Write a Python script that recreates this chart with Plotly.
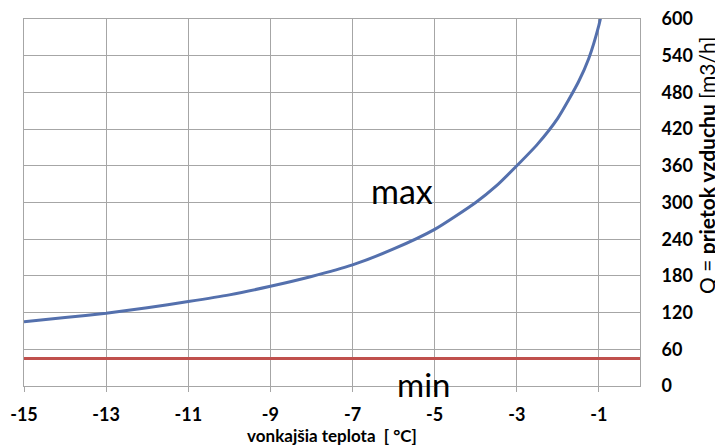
import plotly.graph_objects as go

# outdoor temperature [°C]
temp_max = [-15, -14, -13, -12, -11, -10, -9, -8, -7, -6, -5, -4, -3.5, -3,
            -2.5, -2, -1.5, -1.25, -1, -0.95]
# max air flow [m3/h]
flow_max = [105, 112, 119, 128, 138, 149, 163, 179, 198, 224, 256, 300, 327, 360,
            395, 438, 497, 535, 590, 605]

temp_min = [-15, 0]
flow_min = [45, 45]

x_ticks = [-15, -13, -11, -9, -7, -5, -3, -1]
x_labels = ["-15", "-13", "-11", "-9", "-7", "-5", "-3", "-1"]
y_ticks = [0, 60, 120, 180, 240, 300, 360, 420, 480, 540, 600]

FONT = "Lato"
GRID = "#a6a6a6"
OFF = 8  # page body margin

fig = go.Figure()
fig.add_trace(go.Scatter(x=temp_min, y=flow_min, mode="lines",
                         line=dict(color="#c0504d", width=3), showlegend=False))
fig.add_trace(go.Scatter(x=temp_max, y=flow_max, mode="lines",
                         line=dict(color="#5470ad", width=3, shape="spline",
                                   smoothing=0.6),
                         showlegend=False))

fig.update_layout(
    width=723 - OFF, height=447 - OFF,
    margin=dict(l=24 - OFF, r=83, t=19 - OFF, b=61),
    paper_bgcolor="white", plot_bgcolor="white",
    font=dict(family=FONT, color="black"),
    xaxis=dict(range=[-15, 0], tickvals=x_ticks, ticktext=x_labels,
               ticks="outside", ticklen=5, tickcolor=GRID,
               showgrid=True, gridcolor=GRID, gridwidth=1,
               showline=True, linecolor=GRID, mirror=True, automargin=False,
               tickfont=dict(size=18, family=FONT, weight="bold"),
               ticklabelstandoff=7, ticklabeloverflow="allow",
               zeroline=False,
               title=dict(text="<b>vonkajšia teplota  [ °C]</b>",
                          font=dict(size=17, family=FONT), standoff=1)),
    yaxis=dict(range=[0, 600], tickvals=y_ticks, side="right",
               showgrid=True, gridcolor=GRID, gridwidth=1,
               showline=True, linecolor=GRID, mirror=True, automargin=False,
               zeroline=False, ticks="", ticklabelstandoff=17,
               ticklabeloverflow="allow",
               tickfont=dict(size=18, family=FONT, weight="bold")),
    annotations=[
        dict(text="max", x=-5.8, y=320, xref="x", yref="y", showarrow=False,
             font=dict(size=34, family=FONT, color="black")),
        dict(text="min", x=-5.26, y=(386 - 384) / 367, xref="x", yref="paper",
             yanchor="middle", showarrow=False,
             font=dict(size=33, family=FONT, color="black")),
        dict(text="Q = <b>prietok vzduchu</b> [m3/h]",
             x=(706 - 24) / (723 - 24 - 83), y=(386 - 166) / 367,
             xref="paper", yref="paper", showarrow=False, textangle=-90,
             xanchor="center", yanchor="middle",
             font=dict(size=21, family=FONT, color="black")),
    ],
)

fig.write_html("out.html")
